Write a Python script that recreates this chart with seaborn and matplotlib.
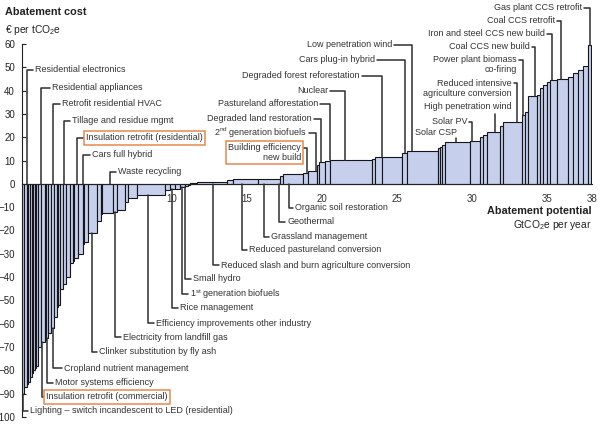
import numpy as np
import matplotlib
matplotlib.use('Agg')
import matplotlib.pyplot as plt
import seaborn as sns

# abatement measures sorted by cost: width in GtCO2e/yr, cost in EUR/tCO2e
widths = [0.13, 0.2, 0.07, 0.13, 0.13, 0.07, 0.13, 0.07, 0.13,
          0.2, 0.27, 0.07, 0.13, 0.2, 0.2, 0.2, 0.07, 0.13,
          0.2, 0.2, 0.27, 0.2, 0.07, 0.27, 0.33, 0.07, 0.27,
          0.6, 0.27, 0.07, 0.73, 0.27, 0.53, 0.2, 0.6, 1.87,
          0.33, 0.33, 0.33, 0.33, 0.2, 0.13,
          0.47, 2.0, 0.4, 1.67, 1.47, 0.2, 1.33, 0.33, 0.6, 0.13,
          0.4, 0.33, 2.8, 0.2, 0.47, 1.33, 0.33, 2.07, 0.13, 0.13,
          0.2, 1.67, 0.67, 0.2, 0.27, 0.87, 0.2, 1.27, 0.2, 0.2,
          0.6, 0.2, 0.2, 0.27, 0.2, 0.47, 0.73, 0.33, 0.33, 0.33, 0.33, 0.2]
costs = [-90, -87, -86, -85, -83, -81, -80, -79, -78,
         -70, -68, -67, -66, -64, -62, -57, -53, -52,
         -45, -43, -40, -34, -33, -32, -30, -26, -25,
         -21, -16, -13, -12.5, -12, -11, -7.7, -6, -4.7,
         -2.6, -2.3, -2.0, -1.2, -0.8, -0.3,
         0.5, 1.0, 1.5, 2.0, 2.3, 3.4, 4.2, 4.6, 5.5, 8.0,
         9.2, 10.0, 10.4, 10.8, 11.5, 11.7, 13.3, 14.2, 15.5, 16.0,
         16.5, 17.8, 18.2, 20.3, 21.0, 22.4, 25.0, 26.6, 29.6, 31.0,
         37.5, 38.0, 41.0, 42.5, 43.9, 44.6, 45.0, 46.0, 47.5, 49.0, 50.6, 59.6]

# labels: text, text x, text y, pointed x
top_left = [
    ("Residential electronics", 0.87, 48.9, 0.33),
    ("Residential appliances", 2.0, 41.2, 1.27),
    ("Retrofit residential HVAC", 2.67, 34.3, 2.07),
    ("Tillage and residue mgmt", 3.33, 27.0, 2.8),
    ("Insulation retrofit (residential)", 4.27, 19.7, 3.67),
    ("Cars full hybrid", 4.67, 12.4, 4.07),
    ("Waste recycling", 6.4, 5.2, 5.87),
]
bottom = [
    ("Lighting \u2013 switch incandescent to LED (residential)", 0.53, -97.4, 0.07),
    ("Insulation retrofit (commercial)", 1.6, -91.4, 1.33),
    ("Motor systems efficiency", 2.2, -85.4, 1.67),
    ("Cropland nutrient management", 2.8, -79.0, 2.07),
    ("Clinker substitution by fly ash", 5.13, -72.1, 4.67),
    ("Electricity from landfill gas", 6.73, -65.7, 6.2),
    ("Efficiency improvements other industry", 8.93, -59.7, 8.4),
    ("Rice management", 10.53, -53.2, 10.0),
    ("1$^{st}$ generation biofuels", 11.2, -47.2, 10.67),
    ("Small hydro", 11.4, -40.8, 10.87),
    ("Reduced slash and burn agriculture conversion", 13.27, -34.8, 12.73),
    ("Reduced pastureland conversion", 15.13, -28.3, 14.67),
    ("Grassland management", 16.6, -22.7, 16.13),
    ("Geothermal", 17.67, -16.3, 17.13),
    ("Organic soil restoration", 18.2, -10.3, 17.8),
]
# text, text right x, text y, leader y, pointed x
top_right = [
    ("Low penetration wind", 24.67, 59.7, 59.7, 26.0),
    ("Cars plug-in hybrid", 23.53, 53.2, 53.2, 25.53),
    ("Degraded forest reforestation", 22.53, 46.4, 46.4, 24.0),
    ("Nuclear", 20.4, 39.9, 39.9, 21.53),
    ("Pastureland afforestation", 19.73, 34.3, 34.3, 20.53),
    ("Degraded land restoration", 19.33, 27.9, 27.9, 19.93),
    ("2$^{nd}$ generation biofuels", 19.0, 21.9, 21.9, 19.6),
    ("Building efficiency\nnew build", 18.6, 13.5, 15.5, 19.0),
    ("Gas plant CCS retrofit", 37.33, 75.5, 75.5, 37.87),
    ("Coal CCS retrofit", 35.53, 70.0, 70.0, 35.93),
    ("Iron and steel CCS new build", 34.87, 64.4, 64.4, 35.33),
    ("Coal CCS new build", 33.87, 58.8, 58.8, 34.2),
    ("Power plant biomass\nco-firing", 33.0, 51.1, 53.2, 33.4),
    ("Reduced intensive\nagriculture conversion", 32.67, 41.0, 43.3, 33.0),
    ("Solar PV", 29.67, 26.6, 26.6, 30.0),
]
# text, text right x, text y, pointed x, leader start y
drops = [
    ("High penetration wind", 32.67, 33.0, 31.53, 29.8),
    ("Solar CSP", 29.0, 21.9, 28.93, 19.5),
]
boxed = ["Insulation retrofit (residential)", "Insulation retrofit (commercial)",
         "Building efficiency\nnew build"]

sns.set_style('ticks')
plt.rcParams['font.family'] = ['Liberation Sans', 'DejaVu Sans']
plt.rcParams['mathtext.default'] = 'regular'

fig = plt.figure(figsize=(6.03, 4.25), dpi=100)
ax = fig.add_axes([22 / 603, 1 - 417 / 425, 570 / 603, 373 / 425])

edges = np.cumsum(widths)
left = edges - np.array(widths)
fills = ['#1c1c22' if w < 0.1 else '#c6d0ec' for w in widths]
ax.bar(left, costs, width=widths, align='edge', color=fills,
       edgecolor='#15151a', linewidth=0.8, zorder=2)


def bar_end(x, up):
    i = min(np.searchsorted(edges, x), len(costs) - 1)
    c = costs[i]
    if up:
        return c if c > 0 else 0
    return c if c < 0 else 0


lc = '#2e2e2e'
tc = '#333333'
fs = 6.5
box = dict(boxstyle='square,pad=0.25', fc='white', ec='#e8894a', lw=1.1)

for txt, tx, ty, bx in top_left + bottom:
    ax.plot([tx - 0.15, bx, bx], [ty, ty, bar_end(bx, ty > 0)],
            color=lc, lw=1.1, zorder=3, clip_on=False)
    ax.text(tx, ty, txt, ha='left', va='center', fontsize=fs, color=tc,
            bbox=box if txt in boxed else None, zorder=4)

for txt, tx, ty, ly, bx in top_right:
    ax.plot([tx + 0.15, bx, bx], [ly, ly, bar_end(bx, True)],
            color=lc, lw=1.1, zorder=3, clip_on=False)
    ax.text(tx, ty, txt, ha='right', va='center', fontsize=fs, color=tc,
            multialignment='right', linespacing=1.1,
            bbox=box if txt in boxed else None, zorder=4, clip_on=False)

for txt, tx, ty, bx, ly in drops:
    ax.plot([bx, bx], [ly, bar_end(bx, True)], color=lc, lw=1.1, zorder=3)
    ax.text(tx, ty, txt, ha='right', va='center', fontsize=fs, color=tc, zorder=4)

ax.set_xlim(0, 38)
ax.set_ylim(-100, 60)
ax.set_yticks(range(-100, 61, 10))
ax.set_xticks([5, 10, 15, 20, 25, 30, 35, 38])
ax.spines['bottom'].set_position(('data', 0))
ax.spines['top'].set_visible(False)
ax.spines['right'].set_visible(False)
ax.spines['left'].set_color('#222222')
ax.spines['bottom'].set_color('#222222')
ax.tick_params(axis='y', direction='in', length=3, pad=5, labelsize=7, colors='#222222')
ax.tick_params(axis='x', length=0, pad=7.5, labelsize=7, colors='#333333')

ax.text(38, -11.5, 'Abatement potential', ha='right', va='center',
        fontsize=7.8, fontweight='bold', color='#222222')
ax.text(38, -17.6, 'GtCO$_2$e per year', ha='right', va='center',
        fontsize=7.4, color='#222222')
fig.text(0.008, 1 - 12 / 425, 'Abatement cost', ha='left', va='center',
         fontsize=7.8, fontweight='bold', color='#222222')
fig.text(0.008, 1 - 30 / 425, '\u20ac per tCO$_2$e', ha='left', va='center',
         fontsize=7.4, color='#222222')

fig.savefig('out.png', dpi=100)
